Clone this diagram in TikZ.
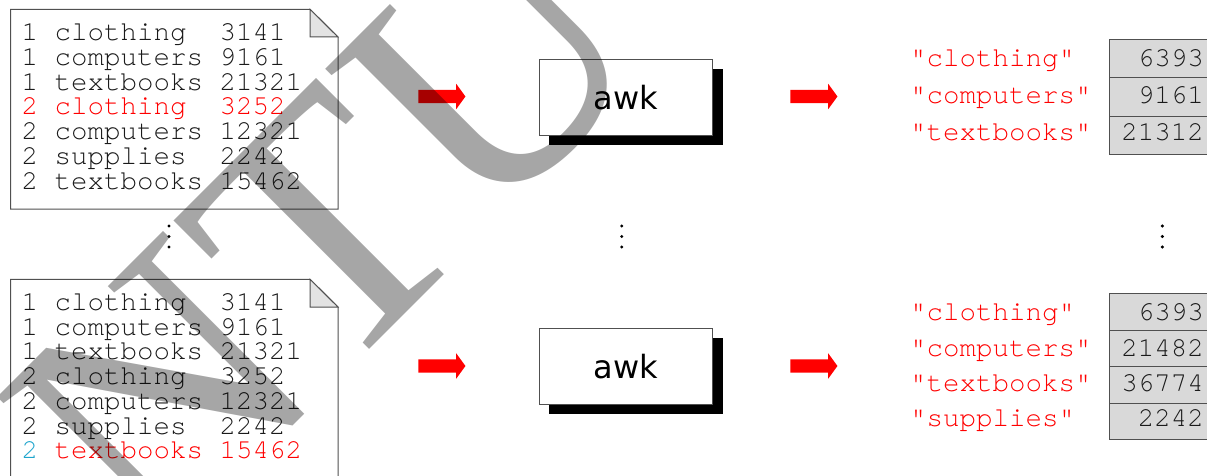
\documentclass[tikz,border=0pt]{standalone}
\usepackage{fontspec}
\usetikzlibrary{shapes.arrows,shadows}
\newfontfamily\monofont{texgyrecursor-regular.otf}
\newfontfamily\awkfont{DejaVu Sans}
\newfontfamily\markfont{Liberation Serif}
\definecolor{ink}{HTML}{1A1A1A}
\definecolor{hot}{HTML}{FF0000}
\definecolor{sky}{HTML}{1EA5CD}
\definecolor{edge}{HTML}{505050}
\definecolor{cellfill}{HTML}{D9D9D9}
\definecolor{fold}{HTML}{E3E3E3}
\tikzset{
  mono/.style={inner sep=0, font=\monofont\fontsize{27.5}{27.5}\selectfont},
  fileline/.style={mono, anchor=base west, text=ink},
  keylabel/.style={mono, anchor=base west, text=hot},
  count/.style={mono, anchor=base east, text=ink},
  cell/.style={draw=edge, fill=cellfill, line width=1pt, anchor=north west,
    minimum width=130pt, inner sep=0},
  awkbox/.style={draw=edge, fill=white, line width=0.9pt, inner sep=0,
    minimum width=173.4pt, minimum height=75.7pt,
    font=\awkfont\fontsize{32}{32}\selectfont,
    general shadow={fill=black, shadow xshift=10pt, shadow yshift=-10pt}},
  flow/.style={single arrow, fill=hot, inner xsep=0pt, inner ysep=6.5pt,
    minimum height=47pt, minimum width=25pt, single arrow head extend=6pt,
    single arrow tip angle=108},
  vdot/.style={circle, fill=black, inner sep=0, minimum size=3.4pt},
  filebox/.style={draw=edge, line width=1pt, fill=white},
}
\begin{document}
\begin{tikzpicture}[x=1pt,y=-1pt]
\useasboundingbox (0,0) rectangle (1207,476);
\clip (0,0) rectangle (1207,476);
\fill[white] (0,0) rectangle (1207,476);

% input file, first split
\draw[filebox] (10.7,9.3) -- (310,9.3) -- (338,37) -- (338,209) -- (10.7,209) -- cycle;
\draw[draw=edge, line width=1pt, fill=fold] (310,9.3) -- (310,37) -- (338,37) -- cycle;
\foreach \t [count=\i] in {1~clothing~~3141, 1~computers~9161, 1~textbooks~21321,
    {\color{hot}2~clothing~~3252}, 2~computers~12321, 2~supplies~~2242, 2~textbooks~15462}
  \node[fileline] (fa\i) at (21.5,{40.7+24.75*(\i-1)}) {\t};

% input file, last split
\draw[filebox] (10.7,500) -- (10.7,279.3) -- (310,279.3) -- (338,307) -- (338,500);
\draw[draw=edge, line width=1pt, fill=fold] (310,279.3) -- (310,307) -- (338,307) -- cycle;
\foreach \t [count=\i] in {1~clothing~~3141, 1~computers~9161, 1~textbooks~21321,
    2~clothing~~3252, 2~computers~12321, 2~supplies~~2242,
    {{\color{sky}2}~{\color{hot}textbooks~15462}}}
  \node[fileline] (fb\i) at (21.5,{310.5+24.7*(\i-1)}) {\t};

% awk processes
\node[awkbox] (awk1) at (626,97.2) {awk};
\node[awkbox] (awk2) at (626,366.2) {awk};

% flow arrows
\node[flow] (ia1) at (439.5,96.5) {};
\node[flow] (ia2) at (439.5,366) {};
\node[flow] (oa1) at (811.5,96.5) {};
\node[flow] (oa2) at (811.5,366) {};

% associative arrays
\foreach \y [count=\i] in {39.3,77.5,115.7}
  \node[cell, minimum height=38.2pt] (ca\i) at (1109,\y) {};
\foreach \y [count=\i] in {293.3,329.8,366.3,402.8}
  \node[cell, minimum height=36.5pt] (cb\i) at (1109,\y) {};

\node[keylabel] (ka1) at (910,66.7) {"clothing"};
\node[keylabel] (ka2) at (910,103.3) {"computers"};
\node[keylabel] (ka3) at (910,140) {"textbooks"};
\node[count] (va1) at (1204,66.7) {6393};
\node[count] (va2) at (1204,103.3) {9161};
\node[count] (va3) at (1204,140) {21312};

\node[keylabel] (kb1) at (910,320) {"clothing"};
\node[keylabel] (kb2) at (910,356.7) {"computers"};
\node[keylabel] (kb3) at (910,391.7) {"textbooks"};
\node[keylabel] (kb4) at (910,426.7) {"supplies"};
\node[count] (vb1) at (1204,320) {6393};
\node[count] (vb2) at (1204,356.7) {21482};
\node[count] (vb3) at (1204,391.7) {36774};
\node[count] (vb4) at (1204,426.7) {2242};

% vertical ellipses
\foreach \x/\n in {169/l,621.7/m,1162.3/r}
  \foreach \y [count=\j] in {226,236.5,247}
    \node[vdot] (dot\n\j) at (\x,\y) {};

% watermark
\node[rotate=45, anchor=base west, inner sep=0, text=black, text opacity=0.35,
  font=\markfont\fontsize{350}{350}\selectfont] (mark) at (152.8,566.2) {NTU};
\end{tikzpicture}
\end{document}
